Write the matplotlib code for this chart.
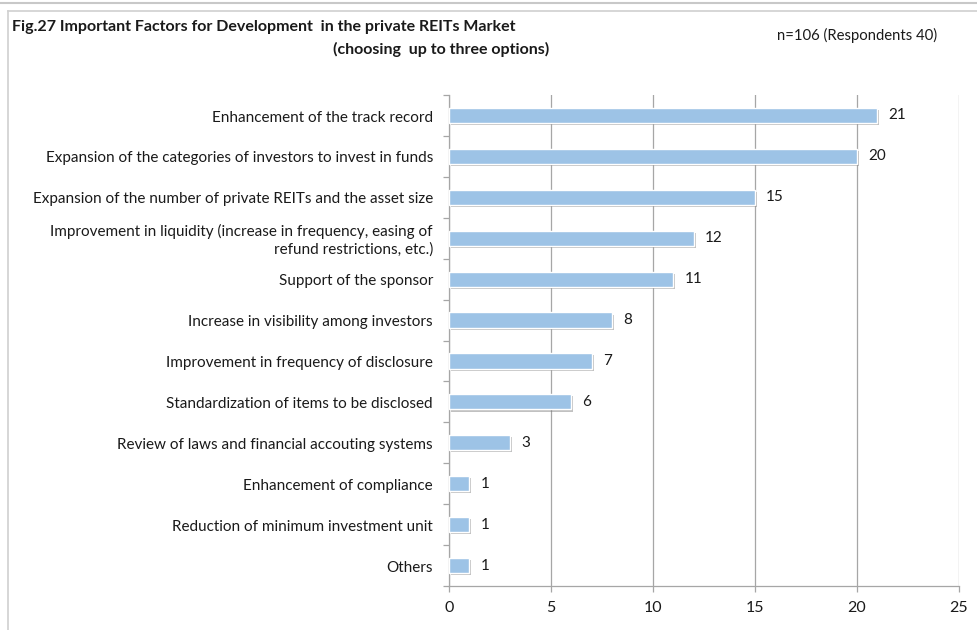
import matplotlib
matplotlib.use("Agg")
import matplotlib.pyplot as plt
import matplotlib.patheffects as pe
from matplotlib.lines import Line2D

plt.rcParams['font.family'] = ['Lato', 'DejaVu Sans']

categories = [
    "Enhancement of the track record",
    "Expansion of the categories of investors to invest in funds",
    "Expansion of the number of private REITs and the asset size",
    "Improvement in liquidity (increase in frequency, easing of\nrefund restrictions, etc.)",
    "Support of the sponsor",
    "Increase in visibility among investors",
    "Improvement in frequency of disclosure",
    "Standardization of items to be disclosed",
    "Review of laws and financial accouting systems",
    "Enhancement of compliance",
    "Reduction of minimum investment unit",
    "Others",
]
values = [21, 20, 15, 12, 11, 8, 7, 6, 3, 1, 1, 1]
x_ticks = [0, 5, 10, 15, 20, 25]

title_line1 = "Fig.27 Important Factors for Development  in the private REITs Market"
title_line2 = "(choosing  up to three options)"
note = "n=106 (Respondents 40)"

W, H = 977, 630
fig = plt.figure(figsize=(W / 100, H / 100), dpi=100)

# frame lines around the figure
fig.add_artist(Line2D([0, 1], [1 - 2.5 / H, 1 - 2.5 / H], color="#c8c8c8", lw=1.5))
fig.add_artist(Line2D([7.5 / W, 1], [1 - 11 / H, 1 - 11 / H], color="#d0d0d0", lw=1.2))
fig.add_artist(Line2D([7.5 / W, 7.5 / W], [0, 1 - 11 / H], color="#d0d0d0", lw=1.2))

left, right = 449 / W, 959 / W
top, bottom = 1 - 95 / H, 1 - 586 / H
ax = fig.add_axes([left, bottom, right - left, top - bottom])

n = len(categories)
ypos = list(range(n))
bars = ax.barh(ypos, values, height=0.37, color="#9dc3e6",
               edgecolor="white", linewidth=1.0, zorder=3)
for b in bars:
    b.set_path_effects([pe.SimplePatchShadow(offset=(1.5, -1.5), shadow_rgbFace="#777777", alpha=0.45),
                        pe.Normal()])

for y, v in zip(ypos, values):
    ax.text(v + 0.55, y, str(v), va="center", ha="left", fontsize=11, color="#1a1a1a")

ax.set_xlim(0, 25)
ax.set_ylim(n - 0.5, -0.5)
ax.set_xticks(x_ticks)
ax.set_xticklabels([str(t) for t in x_ticks], fontsize=11.5)
ax.set_yticks(ypos)
ax.set_yticklabels([])
ax.set_yticks([i - 0.5 for i in range(n + 1)], minor=True)

# category labels, right-aligned just left of the axis
ylab_tf = matplotlib.transforms.blended_transform_factory(ax.transAxes, ax.transData)
for y, c in zip(ypos, categories):
    ax.text(-16 / (959 - 449), y + 0.05, c, transform=ylab_tf, ha="right", va="center",
            multialignment="right", linespacing=1.3, fontsize=11, color="#1a1a1a")

ax.grid(axis="x", color="#a6a6a6", lw=0.9, zorder=0)
ax.tick_params(axis="y", which="major", length=0)
ax.tick_params(axis="y", which="minor", length=4, color="#a6a6a6", width=0.9)
ax.tick_params(axis="x", length=4, color="#a6a6a6", width=0.9, pad=7, labelcolor="#1a1a1a")

for s in ["top", "right"]:
    ax.spines[s].set_visible(False)
for s in ["left", "bottom"]:
    ax.spines[s].set_color("#a6a6a6")
    ax.spines[s].set_linewidth(0.9)

fig.text(12 / W, 1 - 27 / H, title_line1, fontsize=11.5, fontweight="bold",
         ha="left", va="center", color="#1a1a1a")
fig.text(549 / W, 1 - 49 / H, title_line2, fontsize=11.5, fontweight="bold",
         ha="right", va="center", color="#1a1a1a")
fig.text(937 / W, 1 - 35 / H, note, fontsize=10.75, ha="right", va="center", color="#1a1a1a")

fig.savefig("out.png", dpi=100)
